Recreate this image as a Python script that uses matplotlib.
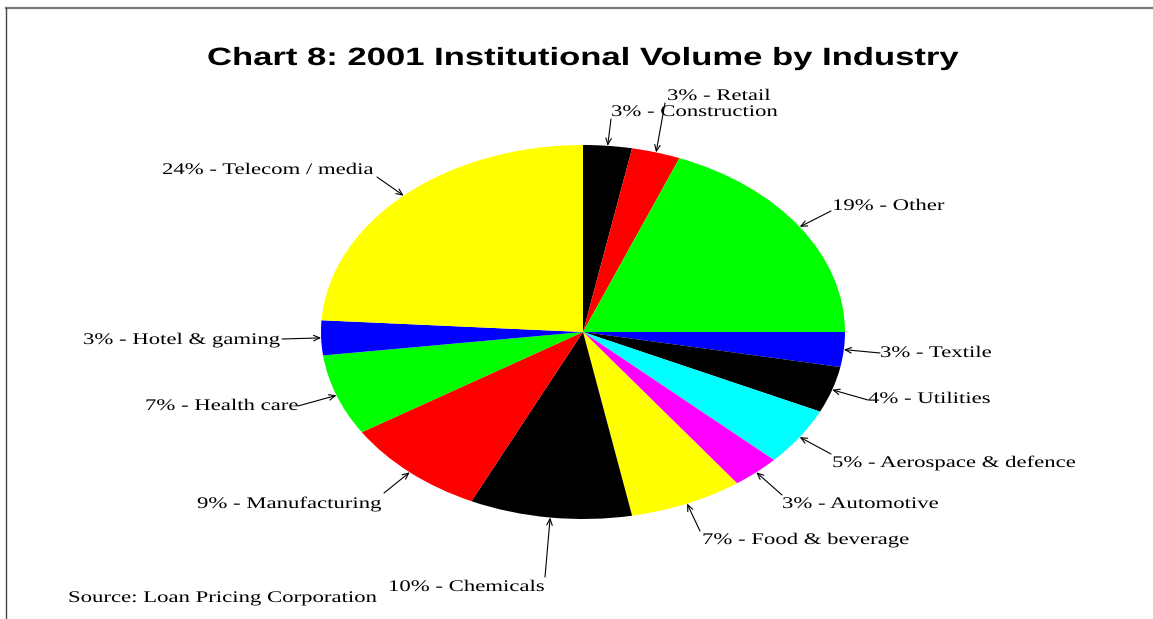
import numpy as np
import matplotlib
matplotlib.use("Agg")
import matplotlib.pyplot as plt
from matplotlib.patheffects import AbstractPathEffect
from matplotlib.transforms import Affine2D
from matplotlib.lines import Line2D

# ---------------- data ----------------
industries = ["Construction", "Retail", "Other", "Textile", "Utilities",
              "Aerospace & defence", "Automotive", "Food & beverage",
              "Chemicals", "Manufacturing", "Health care", "Hotel & gaming",
              "Telecom / media"]
shares = [3, 3, 19, 3, 4, 5, 3, 7, 10, 9, 7, 3, 24]
colors = ["#000000", "#FF0000", "#00FF00", "#0000FF", "#000000", "#00FFFF",
          "#FF00FF", "#FFFF00", "#000000", "#FF0000", "#00FF00", "#0000FF",
          "#FFFF00"]
title = "Chart 8: 2001 Institutional Volume by Industry"
source = "Source: Loan Pricing Corporation"

# ---------------- layout (figure pixels from top-left) ----------------
W, H = 1153, 619
label_pos = [(611, 116), (667, 100), (832, 210), (880, 357), (868, 403),
             (832, 467), (782, 508), (702, 544), (388, 591), (197, 508),
             (145, 410), (83, 344), (162, 174)]
arrow_tail = [(611, 119), (665, 103), (831, 211), (880, 353), (868, 400),
              (831, 454), (782, 495), (700, 531), (545, 577), (384, 493),
              (298, 406), (282, 339), (377, 177)]
pie_cx, pie_cy, pie_rx, pie_ry = 583, 332, 262, 187


class HStretch(AbstractPathEffect):
    """Widen glyphs horizontally about the text's left anchor."""
    def __init__(self, sx):
        super().__init__()
        self.sx = sx

    def draw_path(self, renderer, gc, tpath, affine, rgbFace=None):
        x0 = affine.get_matrix()[0, 2]
        new = affine + Affine2D().translate(-x0, 0).scale(self.sx, 1).translate(x0, 0)
        renderer.draw_path(gc, tpath, new, rgbFace)


def fx(x):
    return x / W


def fy(y):
    return 1 - y / H


fig = plt.figure(figsize=(W / 100, H / 100), dpi=100)
fig.patch.set_facecolor("white")

# pie axes (elliptical pie via non-equal aspect)
ax = fig.add_axes([fx(pie_cx - pie_rx), fy(pie_cy + pie_ry),
                   2 * pie_rx / W, 2 * pie_ry / H])
ax.pie(shares, colors=colors, startangle=90, counterclock=False,
       radius=1.0, wedgeprops=dict(linewidth=0))
ax.set_aspect("auto")
ax.set_xlim(-1, 1)
ax.set_ylim(-1, 1)
ax.axis("off")

# label arrows and texts
serif = ["Liberation Serif", "DejaVu Serif"]
stretch_lbl = [HStretch(1.40)]
cum = np.concatenate([[0], np.cumsum(shares)[:-1]])
total = float(np.sum(shares))
for name, v, c0, (lx, ly), (tx, ty) in zip(industries, shares, cum,
                                            label_pos, arrow_tail):
    theta = np.deg2rad(90 - 360 * (c0 + v / 2) / total)
    ax.annotate("", xy=(np.cos(theta), np.sin(theta)), xycoords="data",
                xytext=(fx(tx), fy(ty)), textcoords="figure fraction",
                arrowprops=dict(arrowstyle="->,head_length=0.45,head_width=0.2",
                                color="black", lw=0.8, shrinkA=0, shrinkB=0),
                annotation_clip=False)
    fig.text(fx(lx), fy(ly), f"{v}% - {name}", family=serif, fontsize=11.7,
             ha="left", va="baseline", color="black",
             path_effects=stretch_lbl)

# title
fig.text(fx(207), fy(65), title, family=["Liberation Sans", "DejaVu Sans"],
         fontsize=18, fontweight="bold", ha="left", va="baseline",
         color="black", path_effects=[HStretch(1.385)])

# source
fig.text(fx(68), fy(602), source, family=serif, fontsize=11.7, ha="left",
         va="baseline", color="black", path_effects=stretch_lbl)

# frame lines (top and left)
fig.add_artist(Line2D([fx(6), 1.0], [fy(8), fy(8)], color="#7a7a7a", lw=1.6,
                      transform=fig.transFigure))
fig.add_artist(Line2D([fx(6), fx(6)], [fy(8), 0.0], color="#444444", lw=1.0,
                      transform=fig.transFigure))

fig.savefig("out.png", dpi=100, facecolor="white")
